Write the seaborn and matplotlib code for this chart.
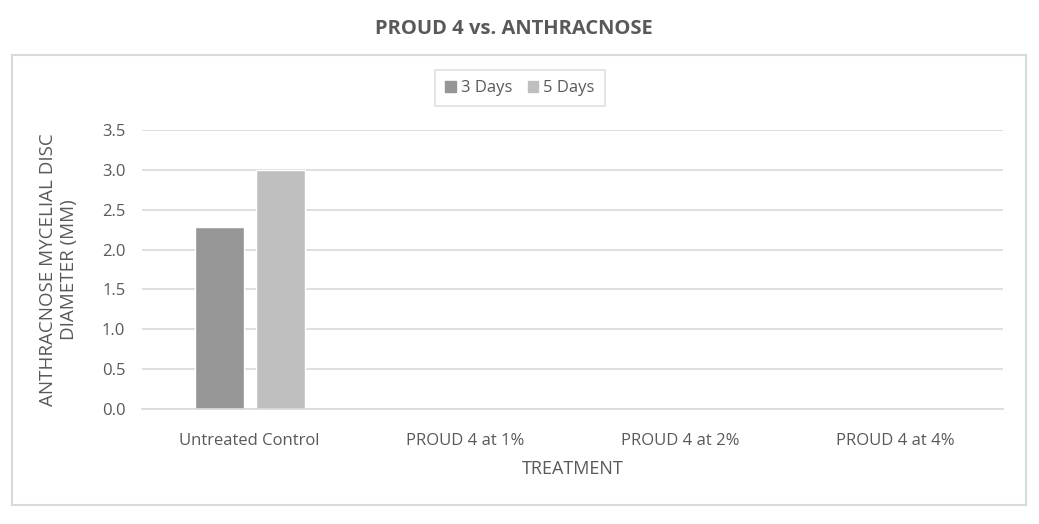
import pandas as pd
import matplotlib.pyplot as plt
import seaborn as sns
from matplotlib.patches import Rectangle
from matplotlib.ticker import FormatStrFormatter, FixedLocator

# Dados
treatments = ['Untreated Control', 'PROUD 4 at 1%', 'PROUD 4 at 2%', 'PROUD 4 at 4%']
days_3 = [2.28, 0, 0, 0]
days_5 = [3.0, 0, 0, 0]
series = ['3 Days', '5 Days']
colors = ['#969696', '#BFBFBF']

df = pd.DataFrame({
    'Treatment': treatments * 2,
    'Value': days_3 + days_5,
    'Series': [series[0]] * 4 + [series[1]] * 4,
})

sns.set_style('white')
plt.rcParams['font.family'] = ['Open Sans', 'DejaVu Sans']
text_color = '#595959'
grid_color = '#D9D9D9'

fig = plt.figure(figsize=(10.39, 5.24), dpi=100)
ax = fig.add_axes([142 / 1039, 1 - 409 / 524, 861 / 1039, 279 / 524])

sns.barplot(data=df, x='Treatment', y='Value', hue='Series', order=treatments,
            hue_order=series, palette=colors, width=0.567, gap=0.197,
            saturation=1, errorbar=None, ax=ax, legend=False)

ax.set_xlim(-0.5, 3.5)
ax.set_ylim(0, 3.5)
ax.set_yticks([0, 0.5, 1, 1.5, 2, 2.5, 3, 3.5])
ax.yaxis.set_major_formatter(FormatStrFormatter('%.1f'))
ax.grid(axis='y', color=grid_color, linewidth=1.2)
ax.set_axisbelow(True)
for s in ['top', 'right', 'left']:
    ax.spines[s].set_visible(False)
ax.spines['bottom'].set_color(grid_color)
ax.spines['bottom'].set_linewidth(1.2)

ax.tick_params(axis='both', which='major', length=0, labelsize=12, labelcolor=text_color)
ax.tick_params(axis='x', pad=17)
ax.tick_params(axis='y', pad=12)
ax.xaxis.set_minor_locator(FixedLocator([-0.5, 0.5, 1.5, 2.5, 3.5]))
ax.tick_params(axis='x', which='minor', length=5, color=grid_color, width=1.2)

ax.set_xlabel('TREATMENT', fontsize=13, color=text_color, labelpad=8)
ax.set_ylabel('ANTHRACNOSE MYCELIAL DISC\nDIAMETER (MM)', fontsize=13.5,
              color=text_color, labelpad=17, linespacing=1.25)

# Legenda
handles = [Rectangle((0, 0), 1, 1, color=c) for c in colors]
leg = fig.legend(handles, series, loc='center', bbox_to_anchor=(520 / 1039, 1 - 88 / 524),
                 ncol=2, frameon=True, fancybox=False, fontsize=12, handlelength=0.65,
                 handleheight=0.65, handletextpad=0.3, columnspacing=0.9, borderpad=0.6)
leg.get_frame().set_edgecolor(grid_color)
leg.get_frame().set_linewidth(1.2)
for t in leg.get_texts():
    t.set_color(text_color)

# Título e moldura
fig.text(514 / 1039, 1 - 29 / 524, 'PROUD 4 vs. ANTHRACNOSE', ha='center', va='center',
         fontsize=14.5, fontweight='bold', color=text_color)
fig.patches.append(Rectangle((12 / 1039, 1 - 505 / 524), 1014 / 1039, 450 / 524,
                             transform=fig.transFigure, fill=False,
                             edgecolor=grid_color, linewidth=1.5))

plt.savefig('out.png', dpi=100)
